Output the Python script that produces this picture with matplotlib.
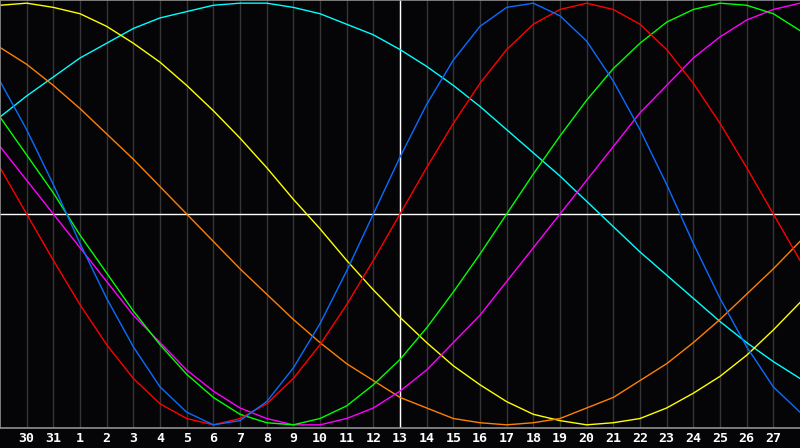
import matplotlib
matplotlib.use('Agg')
import matplotlib.pyplot as plt

# x positions: one per day, left edge = 29th of previous month
days = list(range(31))
tick_days = list(range(1, 30))
tick_labels = ['30', '31'] + [str(i) for i in range(1, 28)]

# cycle values per day, -1 .. 1
blue = [0.63, 0.40, 0.14, -0.14, -0.40, -0.63, -0.82, -0.94, -1.00, -0.98,
        -0.89, -0.73, -0.52, -0.27, 0.00, 0.27, 0.52, 0.73, 0.89, 0.98,
        1.00, 0.94, 0.82, 0.63, 0.40, 0.14, -0.14, -0.40, -0.63, -0.82, -0.94]
red = [0.22, 0.00, -0.22, -0.43, -0.62, -0.78, -0.90, -0.97, -1.00, -0.97,
       -0.90, -0.78, -0.62, -0.43, -0.22, 0.00, 0.22, 0.43, 0.62, 0.78,
       0.90, 0.97, 1.00, 0.97, 0.90, 0.78, 0.62, 0.43, 0.22, 0.00, -0.22]
green = [0.46, 0.28, 0.10, -0.10, -0.28, -0.46, -0.62, -0.76, -0.87, -0.95,
         -0.99, -1.00, -0.97, -0.91, -0.81, -0.69, -0.54, -0.37, -0.19, 0.00,
         0.19, 0.37, 0.54, 0.69, 0.81, 0.91, 0.97, 1.00, 0.99, 0.95, 0.87]
magenta = [0.32, 0.16, 0.00, -0.16, -0.32, -0.48, -0.61, -0.74, -0.84, -0.92,
           -0.97, -1.00, -1.00, -0.97, -0.92, -0.84, -0.74, -0.61, -0.48, -0.32,
           -0.16, 0.00, 0.16, 0.32, 0.48, 0.61, 0.74, 0.84, 0.92, 0.97, 1.00]
yellow = [0.99, 1.00, 0.98, 0.95, 0.89, 0.81, 0.72, 0.61, 0.49, 0.36,
          0.22, 0.07, -0.07, -0.22, -0.36, -0.49, -0.61, -0.72, -0.81, -0.89,
          -0.95, -0.98, -1.00, -0.99, -0.97, -0.92, -0.85, -0.77, -0.67, -0.55, -0.42]
orange = [0.79, 0.71, 0.61, 0.50, 0.38, 0.26, 0.13, 0.00, -0.13, -0.26,
          -0.38, -0.50, -0.61, -0.71, -0.79, -0.87, -0.92, -0.97, -0.99, -1.00,
          -0.99, -0.97, -0.92, -0.87, -0.79, -0.71, -0.61, -0.50, -0.38, -0.26, -0.13]
cyan = [0.46, 0.56, 0.65, 0.74, 0.81, 0.88, 0.93, 0.96, 0.99, 1.00,
        1.00, 0.98, 0.95, 0.90, 0.85, 0.78, 0.70, 0.61, 0.51, 0.40,
        0.29, 0.18, 0.06, -0.06, -0.18, -0.29, -0.40, -0.51, -0.61, -0.70, -0.78]

series = [
    (cyan, '#00ffff'),
    (yellow, '#ffff00'),
    (orange, '#ff8000'),
    (magenta, '#ff00ff'),
    (green, '#00ff00'),
    (red, '#ff0000'),
    (blue, '#0a6cff'),
]

fig = plt.figure(figsize=(8, 4.48), dpi=100, facecolor='#050508')
ax = fig.add_axes([0, 20 / 448, 1, 428 / 448])
ax.set_facecolor('#050508')

for d in tick_days:
    ax.axvline(d, color='#353535', lw=1)
ax.axhline(0, color='white', lw=1)
ax.axvline(15, color='white', lw=1)

for vals, col in series:
    ax.plot(days, vals, color=col, lw=1)

ax.set_xlim(0, 30)
ax.set_ylim(-1.015, 1.015)
ax.set_yticks([])
ax.set_xticks(tick_days)
ax.set_xticklabels(tick_labels, color='white', fontweight='bold',
                   fontsize=9.5, family='DejaVu Sans Mono')
ax.tick_params(axis='x', length=0, pad=3)

for side in ['left', 'top', 'bottom']:
    ax.spines[side].set_color('#909090')
    ax.spines[side].set_linewidth(1.2)
ax.spines['right'].set_visible(False)

fig.savefig('out.png', dpi=100, facecolor=fig.get_facecolor())
